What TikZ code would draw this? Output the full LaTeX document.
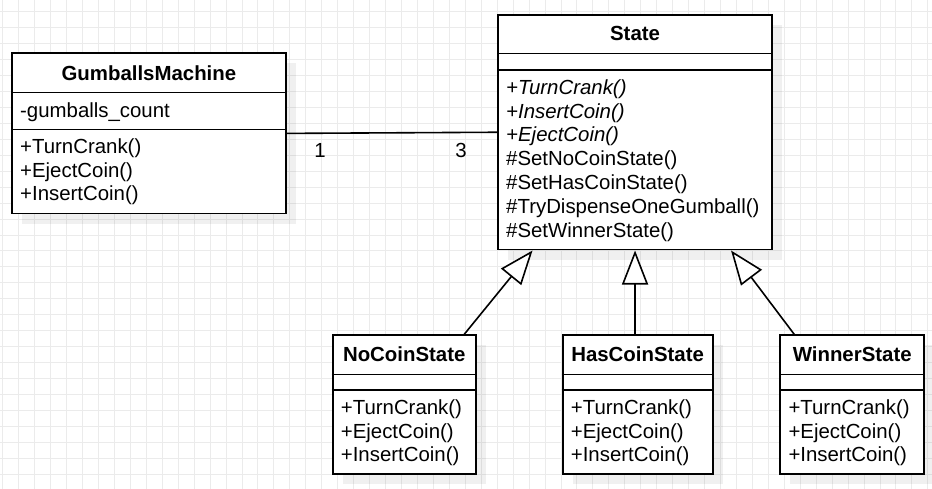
\documentclass[tikz,border=0pt]{standalone}
\usepackage{fontspec}
\setmainfont{Liberation Sans}
\usetikzlibrary{arrows.meta,shadows}

\tikzset{
  gridline/.style={draw=black!8, line width=0.9pt},
  classbox/.style={draw=black, fill=white, line width=1.8pt, inner sep=0pt,
    anchor=north west,
    drop shadow={shadow xshift=10pt, shadow yshift=-10pt, fill=black, opacity=0.06}},
  divider/.style={draw=black, line width=1.5pt},
  title/.style={anchor=base, inner sep=0pt, font=\bfseries},
  member/.style={anchor=base west, inner sep=0pt},
  abstractop/.style={member, font=\itshape},
  multiplicity/.style={anchor=base, inner sep=0pt},
  assoc/.style={draw=black, line width=1.6pt},
  inherits/.style={draw=black, line width=1.6pt,
    -{Triangle[length=34pt, width=26pt, fill=white, line width=1.6pt]}},
}

\begin{document}
\fontsize{20.4}{24}\selectfont
\begin{tikzpicture}[x=1pt, y=-1pt]
  \useasboundingbox (0,0) rectangle (932,489);
  \fill[white] (0,0) rectangle (932,489);

  % background grid
  \foreach \i in {0,...,58}
    \draw[gridline] ({2.7+15.95*\i},0) -- ({2.7+15.95*\i},489);
  \foreach \j in {0,...,29}
    \draw[gridline] (0,{11.7+15.95*\j}) -- (932,{11.7+15.95*\j});

  % ---------- GumballsMachine ----------
  \node[classbox, minimum width=274pt, minimum height=160.4pt] (gm) at (11,52.3) {};
  \draw[divider] (gm.west |- 0,92.3) -- (gm.east |- 0,92.3);
  \draw[divider] (gm.west |- 0,129.3) -- (gm.east |- 0,129.3);
  \node[title] (gm-name) at (gm.north |- 0,80.2) {GumballsMachine};
  \node[member] (gm-a1) at (20,117.3) {-gumballs\_count};
  \node[member] (gm-m1) at (20,153.3) {+TurnCrank()};
  \node[member] (gm-m2) at (20,177.1) {+EjectCoin()};
  \node[member] (gm-m3) at (20,200.9) {+InsertCoin()};

  % ---------- State ----------
  \node[classbox, minimum width=273.7pt, minimum height=234.7pt] (state) at (497.3,14) {};
  \draw[divider] (state.west |- 0,53.3) -- (state.east |- 0,53.3);
  \draw[divider] (state.west |- 0,70) -- (state.east |- 0,70);
  \node[title] (state-name) at (state.north |- 0,40.7) {State};
  \node[abstractop] (st-m1) at (506,94.3) {+TurnCrank()};
  \node[abstractop] (st-m2) at (506,118.1) {+InsertCoin()};
  \node[abstractop] (st-m3) at (506,141.9) {+EjectCoin()};
  \node[member] (st-m4) at (506,165.7) {\#SetNoCoinState()};
  \node[member] (st-m5) at (506,189.5) {\#SetHasCoinState()};
  \node[member] (st-m6) at (506,213.3) {\#TryDispenseOneGumball()};
  \node[member] (st-m7) at (506,237.1) {\#SetWinnerState()};

  % ---------- concrete states ----------
  \foreach \nm/\lbl/\x/\w in {nocoin/NoCoinState/331.7/143.3,
                               hascoin/HasCoinState/561.7/150,
                               winner/WinnerState/779.3/144} {
    \node[classbox, minimum width=\w pt, minimum height=138.4pt] (\nm) at (\x,334.3) {};
    \draw[divider] (\nm.west |- 0,374.3) -- (\nm.east |- 0,374.3);
    \draw[divider] (\nm.west |- 0,390) -- (\nm.east |- 0,390);
    \node[title] (\nm-name) at (\nm.north |- 0,361.6) {\lbl};
    \node[member] (\nm-m1) at ({\x+9},414.3) {+TurnCrank()};
    \node[member] (\nm-m2) at ({\x+9},438.1) {+EjectCoin()};
    \node[member] (\nm-m3) at ({\x+9},461.9) {+InsertCoin()};
  }

  % ---------- association ----------
  \draw[assoc] (gm.east) -- (state.west);
  \node[multiplicity] (mult-gm) at (320,157.7) {1};
  \node[multiplicity] (mult-state) at (461,157.7) {3};

  % ---------- generalisations ----------
  \draw[inherits] ([xshift=60pt]nocoin.north) -- ([xshift=-102.5pt]state.south);
  \draw[inherits] (state.south |- hascoin.north) -- (state.south);
  \draw[inherits] ([xshift=-58pt]winner.north) -- ([xshift=96pt]state.south);
\end{tikzpicture}
\end{document}
